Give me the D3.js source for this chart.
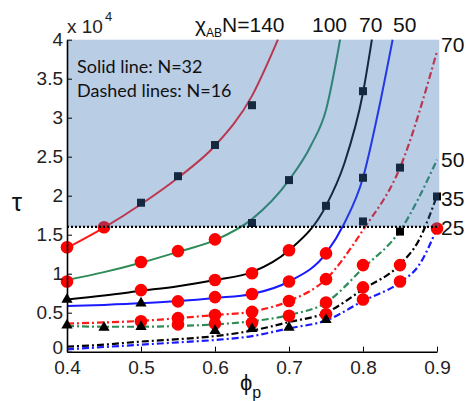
<!DOCTYPE html>
<html>
<head>
<meta charset="utf-8">
<script src="https://cdn.jsdelivr.net/npm/d3@7"></script>
<style>
  body { margin: 0; background: #fff; }
  svg { display: block; }
</style>
</head>
<body>
<div id="chart"></div>
<script>
// tau values are in units of 1e4
const xTicks = [0.4, 0.5, 0.6, 0.7, 0.8, 0.9];
const yTicks = [0, 0.5, 1, 1.5, 2, 2.5, 3, 3.5, 4];
const yTickLabels = ["0", "0.5", "1", "1.5", "2", "2.5", "3", "3.5", "4"];
const threshold = 1.6;

// solid lines, N=32
const solid140 = [[0.4, 1.33], [0.45, 1.59], [0.5, 1.89], [0.55, 2.23], [0.6, 2.64], [0.65, 3.28], [0.685, 4.0]];
const solid100 = [[0.4, 0.92], [0.45, 1.02], [0.5, 1.14], [0.55, 1.28], [0.6, 1.43], [0.65, 1.7], [0.7, 2.2], [0.73, 2.65], [0.75, 3.1], [0.769, 4.0]];
const solid70 = [[0.4, 0.67], [0.45, 0.72], [0.5, 0.78], [0.55, 0.84], [0.6, 0.92], [0.65, 1.02], [0.7, 1.3], [0.75, 1.87], [0.775, 2.42], [0.8, 3.32], [0.812, 4.0]];
const solid50 = [[0.4, 0.585], [0.45, 0.6], [0.5, 0.62], [0.55, 0.65], [0.6, 0.69], [0.65, 0.74], [0.7, 0.9], [0.75, 1.26], [0.775, 1.65], [0.8, 2.23], [0.82, 3.05], [0.84, 4.0]];

// dashed lines, N=16
const dash70 = [[0.4, 0.36], [0.45, 0.375], [0.5, 0.395], [0.55, 0.43], [0.6, 0.47], [0.65, 0.515], [0.7, 0.65], [0.75, 0.93], [0.8, 1.56], [0.85, 2.36], [0.9, 3.85]];
const dash50 = [[0.4, 0.33], [0.45, 0.32], [0.5, 0.32], [0.55, 0.33], [0.6, 0.35], [0.65, 0.39], [0.7, 0.47], [0.75, 0.63], [0.8, 1.07], [0.85, 1.55], [0.9, 2.46]];
const dash35 = [[0.4, 0.065], [0.45, 0.09], [0.5, 0.13], [0.55, 0.16], [0.6, 0.2], [0.65, 0.27], [0.7, 0.38], [0.75, 0.5], [0.8, 0.8], [0.85, 1.12], [0.875, 1.42], [0.9, 2.0]];
const dash25 = [[0.4, 0.03], [0.45, 0.06], [0.5, 0.09], [0.55, 0.12], [0.6, 0.15], [0.65, 0.2], [0.7, 0.3], [0.75, 0.4], [0.8, 0.65], [0.85, 0.89], [0.875, 1.1], [0.9, 1.58]];

// markers
const circles = [
  [0.4, 1.34], [0.45, 1.595],
  [0.4, 0.9], [0.5, 1.15], [0.55, 1.29], [0.6, 1.44],
  [0.5, 0.79], [0.6, 0.92], [0.65, 1.005], [0.7, 1.3],
  [0.55, 0.645], [0.6, 0.7], [0.65, 0.74], [0.7, 0.9], [0.75, 1.26],
  [0.5, 0.39], [0.55, 0.43], [0.6, 0.47], [0.65, 0.51], [0.7, 0.65], [0.75, 0.93],
  [0.55, 0.35], [0.6, 0.36], [0.65, 0.37], [0.7, 0.46], [0.75, 0.63], [0.8, 1.11],
  [0.75, 0.48], [0.8, 0.825], [0.85, 1.11],
  [0.8, 0.67], [0.85, 0.9], [0.9, 1.58]
];
const triangles = [[0.4, 0.67], [0.5, 0.62], [0.4, 0.34], [0.45, 0.31], [0.5, 0.32], [0.6, 0.27], [0.65, 0.295], [0.7, 0.31], [0.75, 0.41]];
const squares = [[0.5, 1.91], [0.55, 2.25], [0.6, 2.65], [0.65, 3.16], [0.65, 1.65], [0.7, 2.2], [0.75, 1.87], [0.8, 3.34], [0.8, 2.23], [0.8, 1.67], [0.85, 2.36], [0.85, 1.54], [0.9, 1.99]];

const topLabels = ["100", "70", "50"];
const rightLabels = [["70", 3.94], ["50", 2.47], ["35", 1.97], ["25", 1.59]];

const series = [
  { data: solid140, color: "#ff1a1a", dash: null },
  { data: solid100, color: "#2e8b57", dash: null },
  { data: solid70, color: "#000000", dash: null },
  { data: solid50, color: "#1a1aff", dash: null },
  { data: dash70, color: "#ff1a1a", dash: "7,3,2,3" },
  { data: dash50, color: "#2e8b57", dash: "7,3,2,3" },
  { data: dash35, color: "#000000", dash: "7,3,2,3" },
  { data: dash25, color: "#1a1aff", dash: "7,3,2,3" }
];

const W = 466, H = 401;
const margin = { top: 39.7, left: 67, right: 29, bottom: 49.3 };

const svg = d3.select("#chart")
  .append("svg")
  .attr("width", W)
  .attr("height", H);

const x = d3.scaleLinear().domain([0.4, 0.9]).range([margin.left, W - margin.right]);
const y = d3.scaleLinear().domain([0, 4]).range([H - margin.bottom, margin.top]);

const line = d3.line()
  .x(d => x(d[0]))
  .y(d => y(d[1]))
  .curve(d3.curveMonotoneX);

// curves
svg.append("g")
  .selectAll("path")
  .data(series)
  .join("path")
  .attr("fill", "none")
  .attr("stroke", d => d.color)
  .attr("stroke-width", d => d.dash ? 2.2 : 2)
  .attr("stroke-dasharray", d => d.dash)
  .attr("d", d => line(d.data));

// markers
svg.append("g")
  .selectAll("circle")
  .data(circles)
  .join("circle")
  .attr("cx", d => x(d[0]))
  .attr("cy", d => y(d[1]))
  .attr("r", 6.3)
  .attr("fill", "#ff0000");

svg.append("g")
  .selectAll("path")
  .data(triangles)
  .join("path")
  .attr("transform", d => `translate(${x(d[0])},${y(d[1])})`)
  .attr("d", d3.symbol(d3.symbolTriangle, 55))
  .attr("fill", "#000");

svg.append("g")
  .selectAll("rect")
  .data(squares)
  .join("rect")
  .attr("x", d => x(d[0]) - 4)
  .attr("y", d => y(d[1]) - 4)
  .attr("width", 8)
  .attr("height", 8)
  .attr("fill", "#000");

// translucent blue region above threshold (tints everything under it)
svg.append("rect")
  .attr("x", x(0.4))
  .attr("y", y(4))
  .attr("width", x(0.903) - x(0.4))
  .attr("height", y(threshold) - y(4))
  .attr("fill", "rgb(57,113,181)")
  .attr("fill-opacity", 0.353);

// dotted threshold line
svg.append("line")
  .attr("x1", x(0.4))
  .attr("x2", x(0.903))
  .attr("y1", y(threshold))
  .attr("y2", y(threshold))
  .attr("stroke", "#000")
  .attr("stroke-width", 2.2)
  .attr("stroke-dasharray", "2,2");

/* AXES */
const font = "'Liberation Sans', Arial, sans-serif";

const yAxis = d3.axisLeft(y)
  .tickValues(yTicks)
  .tickFormat((d, i) => yTickLabels[i])
  .tickSizeInner(-5)
  .tickSizeOuter(0)
  .tickPadding(5);

svg.append("g")
  .attr("transform", `translate(${x(0.4)},0)`)
  .call(yAxis)
  .call(g => g.select(".domain").attr("stroke-width", 1.6))
  .call(g => g.selectAll(".tick text").attr("x", -4).style("font-family", font).style("font-size", "19px").attr("fill", "#222"))
  .call(g => g.selectAll(".tick text").filter(d => d === 0).attr("dy", "0.1em")); // keep "0" clear of "0.4"

const xAxis = d3.axisBottom(x)
  .tickValues(xTicks)
  .tickFormat(d3.format(".1f"))
  .tickSizeInner(-5)
  .tickSizeOuter(0)
  .tickPadding(9);

svg.append("g")
  .attr("transform", `translate(0,${y(0)})`)
  .call(xAxis)
  .call(g => g.select(".domain").attr("stroke-width", 1.6))
  .call(g => g.selectAll(".tick text").style("font-family", font).style("font-size", "19px").attr("fill", "#222"));

// x 10^4
const expo = svg.append("text")
  .attr("x", 67)
  .attr("y", 33)
  .style("font-family", font)
  .style("font-size", "19px")
  .attr("fill", "#222")
  .text("x 10");
expo.append("tspan")
  .attr("dy", -12)
  .attr("dx", 2)
  .style("font-size", "13px")
  .text("4");

// chi_AB N labels on top
const chi = svg.append("text")
  .attr("x", 195)
  .attr("y", 32)
  .style("font-family", font)
  .style("font-size", "21px")
  .attr("fill", "#111")
  .text("χ");
chi.append("tspan").attr("dy", 5).style("font-size", "12px").text("AB");
chi.append("tspan").attr("dy", -5).text("N=140");

svg.selectAll(".toplab")
  .data(topLabels)
  .join("text")
  .attr("class", "toplab")
  .attr("x", (d, i) => [312, 359, 393][i])
  .attr("y", 32)
  .style("font-family", font)
  .style("font-size", "21px")
  .attr("fill", "#111")
  .text(d => d);

// labels at the right end of the dashed curves
svg.selectAll(".rightlab")
  .data(rightLabels)
  .join("text")
  .attr("class", "rightlab")
  .attr("x", 441)
  .attr("y", d => y(d[1]))
  .attr("dy", "0.36em")
  .style("font-family", font)
  .style("font-size", "21px")
  .attr("fill", "#111")
  .text(d => d[0]);

// legend text
const legFont = "Lato, 'Noto Sans', sans-serif";
svg.append("text")
  .attr("x", 77).attr("y", 73)
  .style("font-family", legFont)
  .style("font-size", "18px")
  .attr("fill", "#111")
  .text("Solid line: N=32");
svg.append("text")
  .attr("x", 77).attr("y", 97)
  .style("font-family", legFont)
  .style("font-size", "18px")
  .attr("fill", "#111")
  .text("Dashed lines: N=16");

// axis titles
svg.append("text")
  .attr("x", 17)
  .attr("y", 211)
  .attr("text-anchor", "middle")
  .style("font-family", font)
  .style("font-size", "26px")
  .attr("fill", "#111")
  .text("τ");

const phi = svg.append("text")
  .attr("x", 240)
  .attr("y", 390)
  .style("font-family", font)
  .style("font-size", "22px")
  .attr("fill", "#111")
  .text("ϕ");
phi.append("tspan").attr("dy", 8).style("font-size", "16px").text("p");
</script>
</body>
</html>
